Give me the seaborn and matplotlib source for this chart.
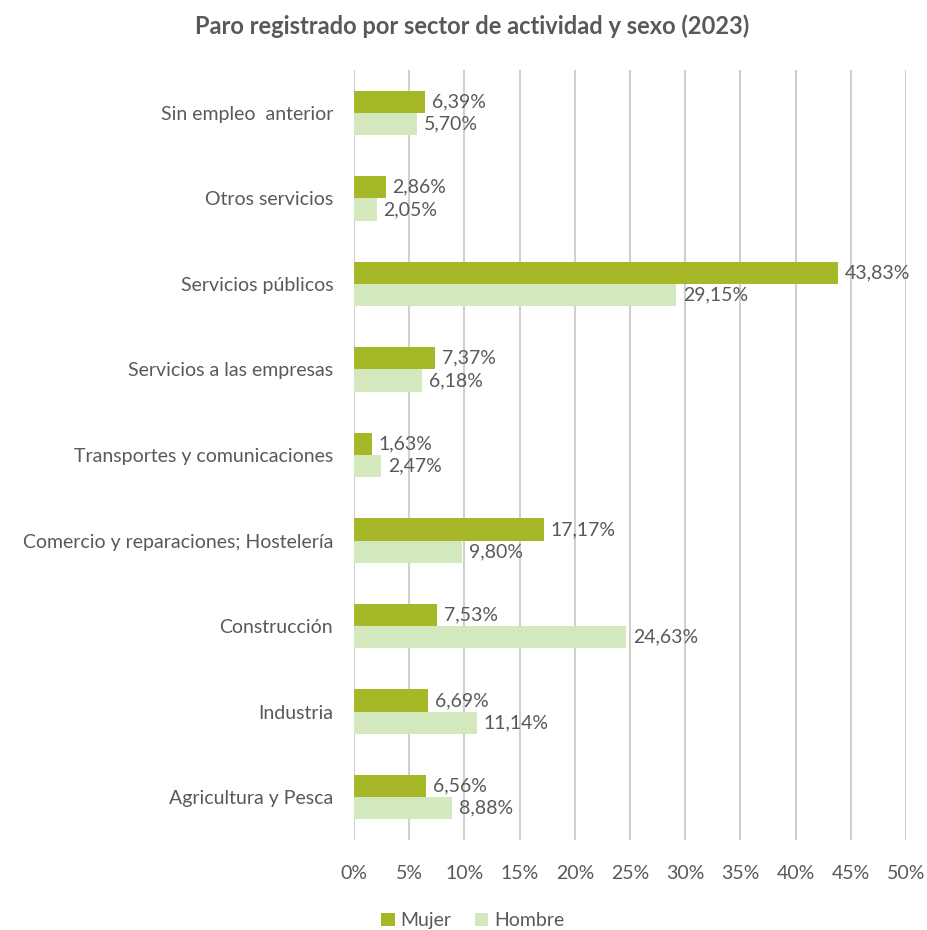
import matplotlib
matplotlib.use("Agg")
import matplotlib.pyplot as plt
from matplotlib.patches import Patch
import seaborn as sns
import pandas as pd

categorias = [
    "Sin empleo  anterior",
    "Otros servicios",
    "Servicios públicos",
    "Servicios a las empresas",
    "Transportes y comunicaciones",
    "Comercio y reparaciones; Hostelería",
    "Construcción",
    "Industria",
    "Agricultura y Pesca",
]
mujer = [6.39, 2.86, 43.83, 7.37, 1.63, 17.17, 7.53, 6.69, 6.56]
hombre = [5.70, 2.05, 29.15, 6.18, 2.47, 9.80, 24.63, 11.14, 8.88]
series = ["Mujer", "Hombre"]
ticks = [0, 5, 10, 15, 20, 25, 30, 35, 40, 45, 50]

df = pd.DataFrame({
    "sector": categorias * 2,
    "sexo": [series[0]] * len(categorias) + [series[1]] * len(categorias),
    "valor": mujer + hombre,
})

sns.set_theme(style="white")
plt.rcParams["font.family"] = ["Lato", "DejaVu Sans"]

texto = "#595959"
colores = {"Mujer": "#A6B828", "Hombre": "#D4E8BD"}

fig = plt.figure(figsize=(9.27, 9.30), dpi=100)
ax = fig.add_axes([0.3819, 0.0968, 0.5954, 0.8279])

sns.barplot(data=df, x="valor", y="sector", hue="sexo", order=categorias,
            hue_order=series, palette=colores, width=0.52, ax=ax,
            legend=False, saturation=1, linewidth=0)

for cont in ax.containers:
    ax.bar_label(cont, labels=[f"{v:.2f}".replace(".", ",") + "%" for v in cont.datavalues],
                 padding=5, fontsize=14, color=texto)

ax.set_xlim(0, 50)
ax.set_ylim(len(categorias) - 0.5, -0.5)
ax.set_xticks(ticks)
ax.set_xticklabels([f"{t}%" for t in ticks], fontsize=14, color=texto)
ax.tick_params(axis="x", length=0, pad=18)
ax.tick_params(axis="y", length=0, pad=15, labelsize=14, labelcolor=texto)
ax.set_xlabel("")
ax.set_ylabel("")
ax.grid(axis="x", color="#D0D0D0", linewidth=1.5)
ax.grid(axis="y", visible=False)
ax.set_axisbelow(True)
for s in ax.spines.values():
    s.set_visible(False)

fig.suptitle("Paro registrado por sector de actividad y sexo (2023)",
             x=0.509, y=0.985, fontsize=17, fontweight="bold", color=texto)

handles = [Patch(facecolor=colores[s], edgecolor="none", label=s) for s in series]
fig.legend(handles=handles, loc="center", bbox_to_anchor=(0.51, 0.01), ncol=2,
           frameon=False, fontsize=14, labelcolor=texto, handlelength=0.7,
           handleheight=0.7, handletextpad=0.3, columnspacing=1.2)

fig.savefig("out.png", dpi=100)
